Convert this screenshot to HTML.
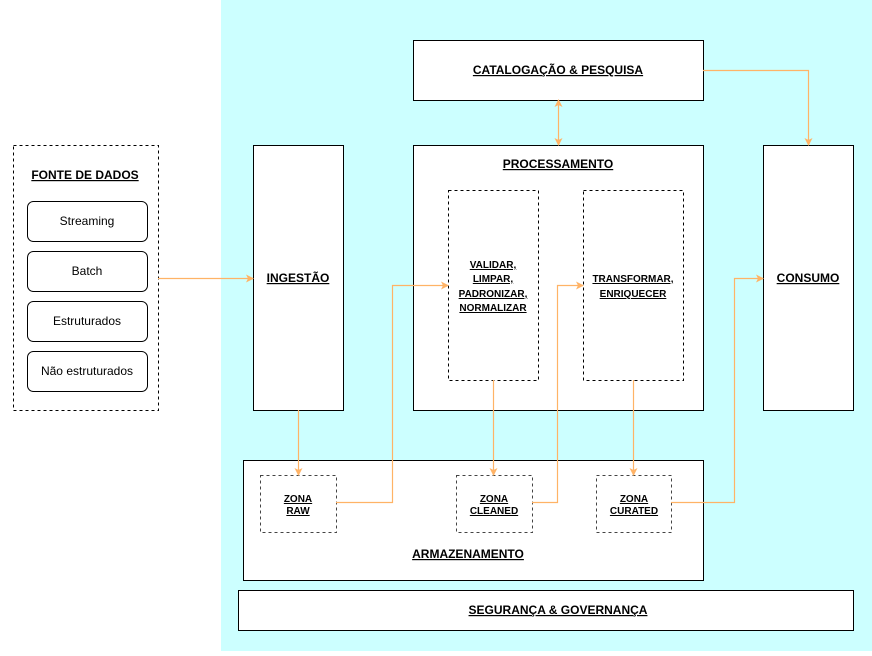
<!DOCTYPE html>
<html><head><meta charset="utf-8"><style>
body{margin:0;background:#fff}
svg text{font-family:"Liberation Sans",sans-serif}
.b{font-weight:bold;text-decoration:underline;font-size:12px}
.s{font-weight:bold;text-decoration:underline;font-size:10px}
</style></head><body>
<svg width="872" height="651" xmlns="http://www.w3.org/2000/svg">
<defs><marker id="a" markerWidth="8" markerHeight="8" refX="7" refY="4" orient="auto" markerUnits="userSpaceOnUse"><path d="M0,0 L8,4 L0,8 L2,4z" fill="#FFB366"/></marker>
<marker id="as" markerWidth="8" markerHeight="8" refX="1" refY="4" orient="auto" markerUnits="userSpaceOnUse"><path d="M8,0 L0,4 L8,8 L6,4z" fill="#FFB366"/></marker></defs>
<rect x="221" y="0" width="651" height="651" fill="#CCFFFF"/>
<rect x="13.5" y="145.5" width="145" height="265" fill="#fff" stroke="#000" stroke-dasharray="3,3"/>
<text x="85" y="179" text-anchor="middle" class="b">FONTE DE DADOS</text>
<g fill="#fff" stroke="#000"><rect x="27.5" y="201.5" width="120" height="40" rx="6"/><rect x="27.5" y="251.5" width="120" height="40" rx="6"/><rect x="27.5" y="301.5" width="120" height="40" rx="6"/><rect x="27.5" y="351.5" width="120" height="40" rx="6"/></g>
<g font-size="12" text-anchor="middle"><text x="87" y="225">Streaming</text><text x="87" y="275">Batch</text><text x="87" y="325">Estruturados</text><text x="87" y="375">Não estruturados</text></g>
<g fill="#fff" stroke="#000">
<rect x="253.5" y="145.5" width="90" height="265"/>
<rect x="413.5" y="40.5" width="290" height="60"/>
<rect x="413.5" y="145.5" width="290" height="265"/>
<rect x="763.5" y="145.5" width="90" height="265"/>
<rect x="243.5" y="460.5" width="460" height="120"/>
<rect x="238.5" y="590.5" width="615" height="40"/>
</g>
<g fill="#fff" stroke="#000" stroke-dasharray="3,3"><rect x="448.5" y="190.5" width="90" height="190"/><rect x="583.5" y="190.5" width="100" height="190"/></g>
<g fill="#fff" stroke="#444" stroke-dasharray="3,3"><rect x="260.5" y="475.5" width="76" height="57"/><rect x="456.5" y="475.5" width="76" height="57"/><rect x="596.5" y="475.5" width="75" height="57"/></g>
<g text-anchor="middle">
<text x="298" y="282" class="b">INGESTÃO</text>
<text x="558" y="74" class="b">CATALOGAÇÃO &amp; PESQUISA</text>
<text x="558" y="168" class="b">PROCESSAMENTO</text>
<text x="808" y="282" class="b">CONSUMO</text>
<text x="468" y="558" class="b">ARMAZENAMENTO</text>
<text x="558" y="614" class="b">SEGURANÇA &amp; GOVERNANÇA</text>
<text x="493" y="268" class="s">VALIDAR,</text><text x="493" y="282" class="s">LIMPAR,</text><text x="493" y="297" class="s">PADRONIZAR,</text><text x="493" y="311" class="s">NORMALIZAR</text>
<text x="633" y="282" class="s">TRANSFORMAR,</text><text x="633" y="297" class="s">ENRIQUECER</text>
<text x="298" y="502" class="s">ZONA</text><text x="298" y="514" class="s">RAW</text>
<text x="494" y="502" class="s">ZONA</text><text x="494" y="514" class="s">CLEANED</text>
<text x="634" y="502" class="s">ZONA</text><text x="634" y="514" class="s">CURATED</text>
</g>
<g fill="none" stroke="#FFB366" stroke-width="1.2" marker-end="url(#a)">
<path d="M158,278.5H253"/>
<path d="M298.5,410V475"/>
<path d="M336,502.5H392.5V285.5H448"/>
<path d="M493.5,380V475"/>
<path d="M532,502.5H557.5V285.5H583"/>
<path d="M633.5,380V475"/>
<path d="M671,502.5H734.5V278.5H763"/>
<path d="M558.5,100V145" marker-start="url(#as)"/>
<path d="M703,70.5H808.5V145"/>
</g>
</svg>
</body></html>
